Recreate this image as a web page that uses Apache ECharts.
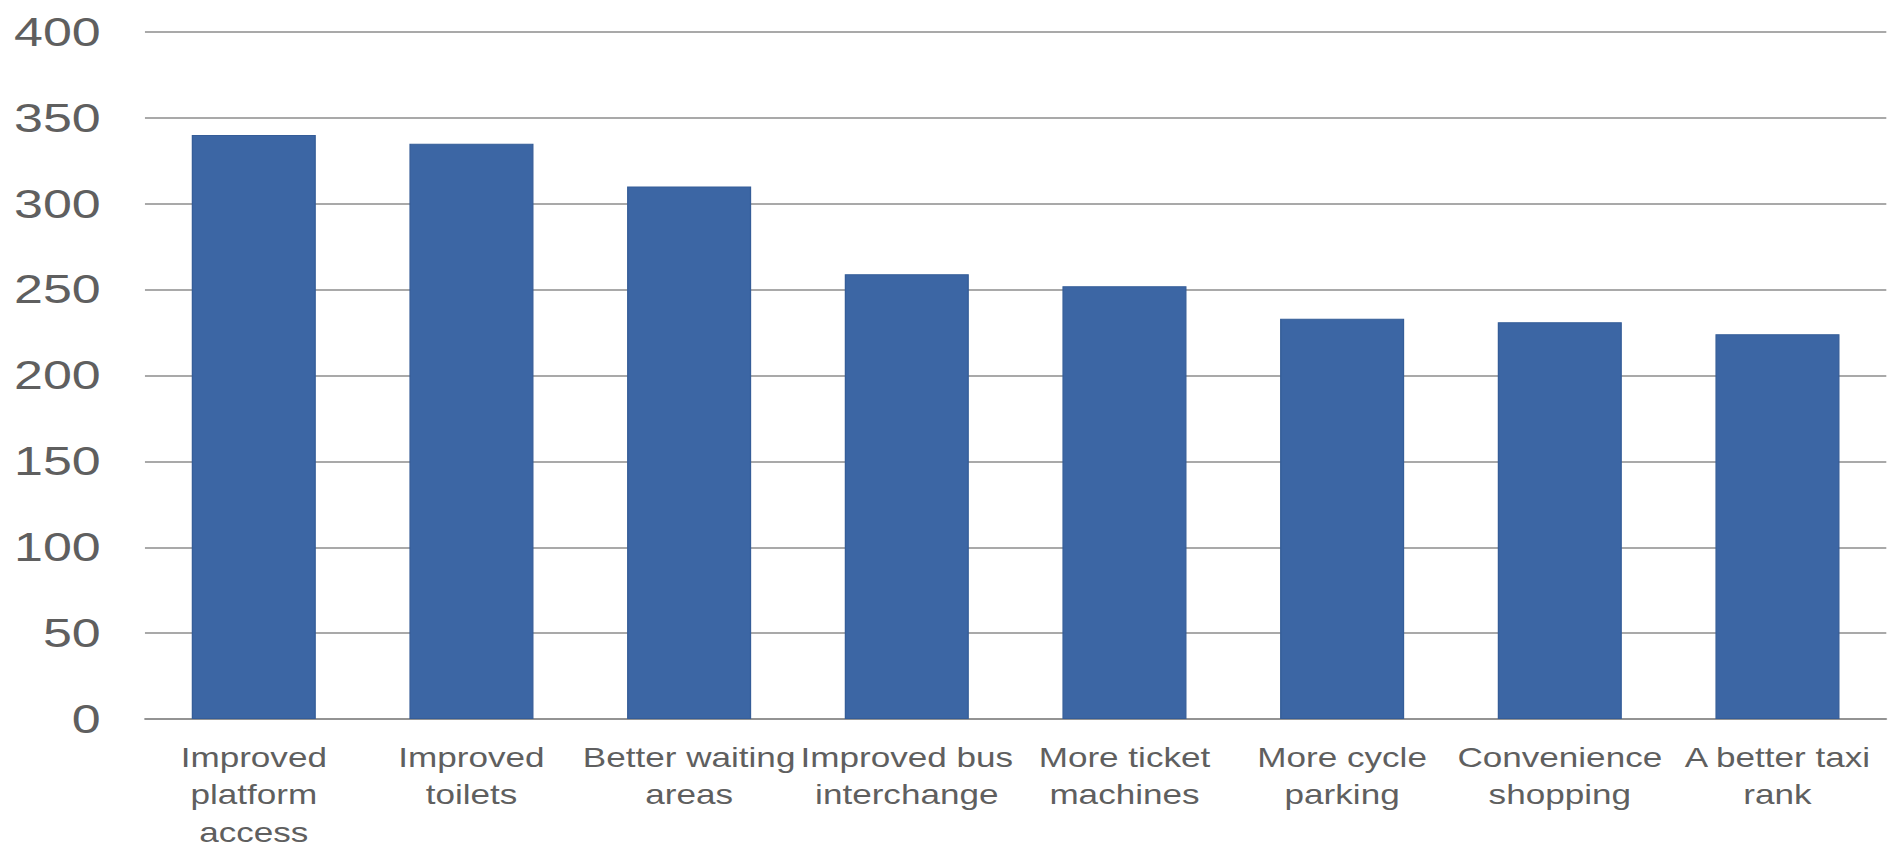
<!DOCTYPE html>
<html>
<head>
<meta charset="utf-8">
<style>
  html, body { margin: 0; padding: 0; background: #ffffff; overflow: hidden; }
  /* the chart is laid out narrower and widened horizontally, giving its broad lettering */
  #chart { width: 1457px; height: 845px; transform: scaleX(1.3); transform-origin: 0 0; }
</style>
<script src="https://cdn.jsdelivr.net/npm/echarts@6/dist/echarts.min.js"></script>
</head>
<body>
<div id="chart"></div>
<script>
// Station improvements and the number of responses for each
const categories = [
  'Improved\nplatform\naccess',
  'Improved\ntoilets',
  'Better waiting\nareas',
  'Improved bus\ninterchange',
  'More ticket\nmachines',
  'More cycle\nparking',
  'Convenience\nshopping',
  'A better taxi\nrank'
];
const responses = [340, 335, 310, 259, 252, 233, 231, 224];
const yTicks = [0, 50, 100, 150, 200, 250, 300, 350, 400];

const chart = echarts.init(document.getElementById('chart'), null, { renderer: 'svg' });

chart.setOption({
  animation: false,
  grid: {
    left: 111.5, right: 6, top: 32, bottom: 126,
    containLabel: false,
    outerBoundsMode: 'none'
  },
  xAxis: {
    type: 'category',
    data: categories,
    axisLine: { show: true, lineStyle: { color: '#8c8c8c', width: 1.5 } },
    axisTick: { show: false },
    axisLabel: {
      interval: 0,
      hideOverlap: false,
      margin: 20,
      color: '#5f5f5f',
      fontFamily: 'Liberation Sans, Arial, sans-serif',
      fontSize: 27,
      lineHeight: 37.5
    }
  },
  yAxis: {
    type: 'value',
    min: yTicks[0],
    max: yTicks[yTicks.length - 1],
    interval: 50,
    axisLine: { show: false },
    axisTick: { show: false },
    splitLine: { show: true, lineStyle: { color: '#8c8c8c', width: 1.5 } },
    axisLabel: {
      margin: 34,
      color: '#5f5f5f',
      fontFamily: 'Liberation Sans, Arial, sans-serif',
      fontSize: 40
    }
  },
  series: [{
    type: 'bar',
    data: responses,
    barWidth: '57%',
    itemStyle: {
      color: '#3c66a4',
      borderColor: '#355d98',
      borderWidth: 1
    }
  }]
});
</script>
</body>
</html>
